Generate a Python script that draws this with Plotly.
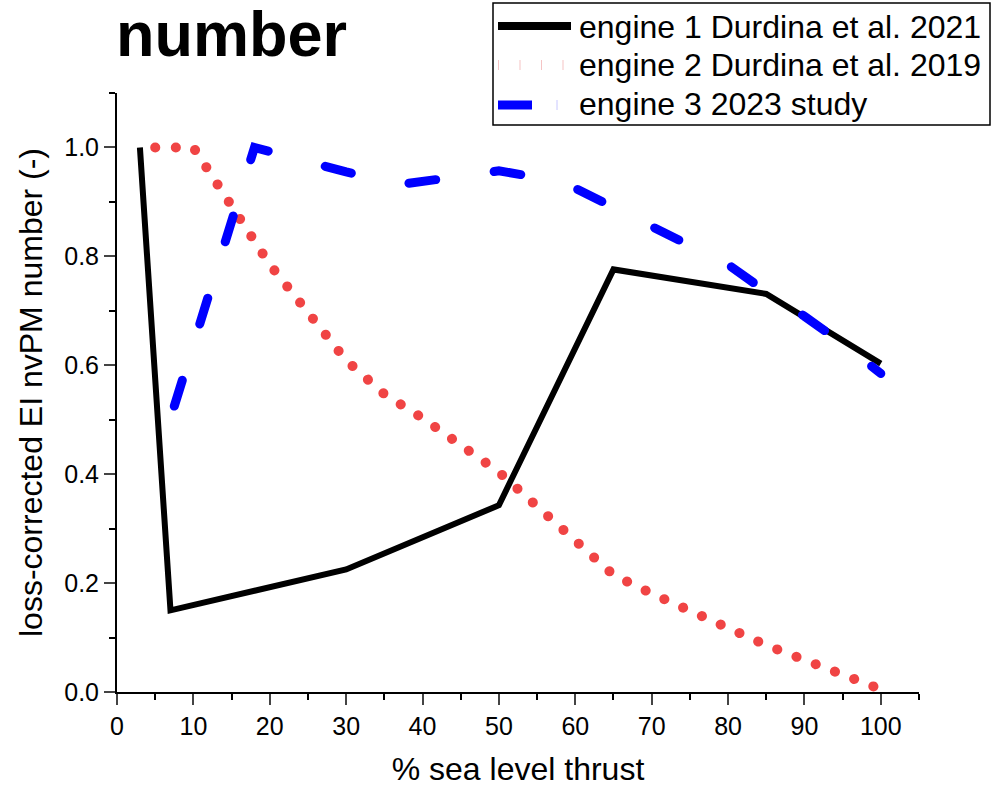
import plotly.graph_objects as go

# ---- data ----
engine1_x = [3, 7, 30, 50, 65, 85, 100]
engine1_y = [1.0, 0.15, 0.225, 0.343, 0.776, 0.731, 0.603]

engine2_x = [5, 10, 20, 30, 35, 40, 50, 65, 70, 85, 100]
engine2_y = [1.0, 1.0, 0.785, 0.609, 0.547, 0.503, 0.404, 0.215, 0.181, 0.086, 0.005]

engine3_x = [7.5, 18, 30, 37, 45, 50, 55, 60, 65, 70, 75, 80, 85, 90, 95, 100]
engine3_y = [0.525, 1.0, 0.955, 0.932, 0.947, 0.957, 0.945, 0.925, 0.89, 0.855,
             0.822, 0.785, 0.735, 0.69, 0.64, 0.585]

names = ["engine 1 Durdina et al. 2021", "engine 2 Durdina et al. 2019", "engine 3 2023 study"]

x_ticks = [0, 10, 20, 30, 40, 50, 60, 70, 80, 90, 100]
y_ticks = [0.0, 0.2, 0.4, 0.6, 0.8, 1.0]

FONT = "Arial, 'Liberation Sans', sans-serif"
W, H = 996, 787
ML, MR, MT, MB = 117, 77, 93, 95
PW, PH = W - ML - MR, H - MT - MB


def px(xp):
    return (xp - ML) / PW


def py(yp):
    return (H - MB - yp) / PH


fig = go.Figure()
fig.add_trace(go.Scatter(x=engine1_x, y=engine1_y, mode="lines", name=names[0],
                         line=dict(color="black", width=6)))
fig.add_trace(go.Scatter(x=engine2_x, y=engine2_y, mode="lines", name=names[1],
                         line=dict(color="#F04444", width=10, dash="0.1px,20.5px")))
fig.add_trace(go.Scatter(x=engine3_x, y=engine3_y, mode="lines", name=names[2],
                         line=dict(color="#0000FF", width=9, dash="27px,59px")))

# ---- hand-drawn legend box (matches reference layout) ----
shapes = [
    dict(type="rect", xref="paper", yref="paper", x0=px(493), x1=px(990), y0=py(125), y1=py(3),
         line=dict(color="black", width=1.5), fillcolor="white", layer="above"),
    dict(type="line", xref="paper", yref="paper", x0=px(498), x1=px(571), y0=py(26), y1=py(26),
         line=dict(color="black", width=8), layer="above"),
    dict(type="line", xref="paper", yref="paper", x0=px(498), x1=px(575), y0=py(65), y1=py(65),
         line=dict(color="#F5C4C4", width=10, dash="1px,20.5px"), layer="above"),
    dict(type="line", xref="paper", yref="paper", x0=px(498), x1=px(532), y0=py(105), y1=py(105),
         line=dict(color="#0000FF", width=9), layer="above"),
    dict(type="line", xref="paper", yref="paper", x0=px(557), x1=px(557), y0=py(100), y1=py(110),
         line=dict(color="#C8C8FF", width=1), layer="above"),
]
annotations = [
    dict(text=n, xref="paper", yref="paper", x=px(577), y=py(yc), xanchor="left", yanchor="middle",
         showarrow=False, font=dict(size=32, family=FONT, color="black"))
    for n, yc in zip(names, [27, 65, 104])
]

fig.update_layout(
    width=W, height=H,
    margin=dict(l=ML, r=MR, t=MT, b=MB, autoexpand=False),
    plot_bgcolor="white", paper_bgcolor="white",
    font=dict(family=FONT, color="black"),
    showlegend=False,
    shapes=shapes, annotations=annotations,
    title=dict(text="<b>number</b>", font=dict(size=63, family=FONT, color="black"),
               x=116/W, xref="container", xanchor="left",
               y=1-34/H, yref="container", yanchor="middle"),
    xaxis=dict(range=[0, 105], tickvals=x_ticks, ticks="outside", ticklen=11, tickwidth=2,
               showline=True, linewidth=2, linecolor="black", showgrid=False, zeroline=False,
               tickfont=dict(size=25, family=FONT),
               minor=dict(dtick=5, ticks="outside", ticklen=6, tickwidth=2, tickcolor="black"),
               title=dict(text="% sea level thrust", font=dict(size=32, family=FONT), standoff=20)),
    yaxis=dict(range=[0, 1.1], tickvals=y_ticks, tickformat=".1f", ticks="outside", ticklen=11,
               tickwidth=2, showline=True, linewidth=2, linecolor="black", showgrid=False,
               zeroline=False, tickfont=dict(size=25, family=FONT),
               minor=dict(dtick=0.1, ticks="outside", ticklen=6, tickwidth=2, tickcolor="black"),
               title=dict(text="loss-corrected EI nvPM number (-)", font=dict(size=32, family=FONT),
                          standoff=12)),
)

post = """
document.body.style.margin = '0';
document.body.style.padding = '0';
var gd = document.getElementById('{plot_id}');
function fixCaps(){
  var tr = gd.querySelectorAll('.scatterlayer .trace');
  tr.forEach(function(t, i){ if(i>0){ t.querySelectorAll('.js-line').forEach(function(p){p.style.strokeLinecap='round';}); } });
}
fixCaps();
gd.on('plotly_afterplot', fixCaps);
"""

fig.write_html("out.html", post_script=post, config={"displayModeBar": False})
